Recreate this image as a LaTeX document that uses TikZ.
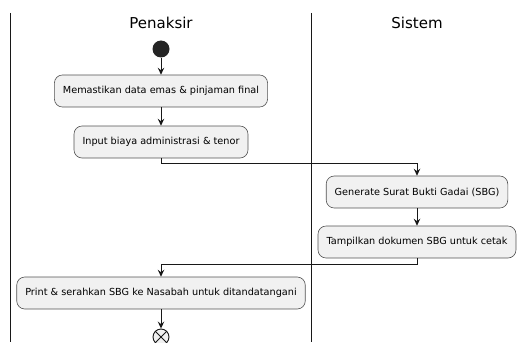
\documentclass[tikz,border=0pt]{standalone}
\usepackage{fontspec}
\setmainfont{DejaVu Sans}
\usepackage{xcolor}
\usetikzlibrary{arrows.meta}
\definecolor{actfill}{HTML}{F1F1F1}
\definecolor{inkc}{HTML}{181818}

\begin{document}
\begin{tikzpicture}[x=1pt,y=-1pt,
        lane/.style={font=\fontsize{15}{18}\selectfont},
        act/.style={draw=inkc!75,line width=0.6pt,fill=actfill,rounded corners=8pt,
            minimum height=32pt,inner xsep=8.5pt,font=\fontsize{9.7}{11}\selectfont},
        flow/.style={draw=inkc,line width=0.9pt,-{Stealth[length=7pt,width=6.5pt,inset=2.5pt]}}]
        \clip (0,0) rectangle (518,342);
        \useasboundingbox (0,0) rectangle (518,342);
        % swimlanes
        \draw[inkc,line width=0.9pt] (10,13) -- (10,342);
        \draw[inkc,line width=0.9pt] (311,13) -- (311,342);
        \node[lane] (penaksir) at (161,23) {Penaksir};
        \node[lane] (sistem) at (417,23) {Sistem};

        \node[circle,fill=inkc!95,minimum size=17pt,inner sep=0pt] (start) at (161,49) {};
        \node[act] (cek) at (161,91) {Memastikan data emas \& pinjaman final};
        \node[act] (biaya) at (161,142) {Input biaya administrasi \& tenor};
        \node[act] (sbg) at (417,192) {Generate Surat Bukti Gadai (SBG)};
        \node[act] (tampil) at (417,242) {Tampilkan dokumen SBG untuk cetak};
        \node[act] (print) at (161,293) {Print \& serahkan SBG ke Nasabah untuk ditandatangani};
        \node[circle,draw=inkc,line width=0.9pt,fill=actfill,minimum size=16pt,inner sep=0pt] (stop) at (161,337) {};
        \draw[inkc,line width=0.9pt] (stop.45) -- (stop.225) (stop.135) -- (stop.315);

        \coordinate (ke sistem) at (417,163);
        \coordinate (ke penaksir) at (161,264);

        \draw[flow] (start) -- (cek);
        \draw[flow] (cek) -- (biaya);
        \draw[flow] (biaya.south) |- (ke sistem) -- (sbg.north);
        \draw[flow] (sbg) -- (tampil);
        \draw[flow] (tampil.south) |- (ke penaksir) -- (print.north);
        \draw[flow] (print) -- (stop);
    \end{tikzpicture}
\end{document}
